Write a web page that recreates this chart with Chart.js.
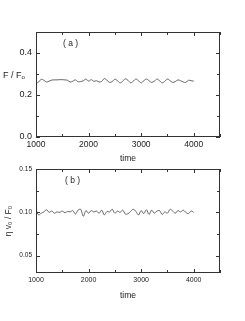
<!DOCTYPE html>
<html>
<head>
<meta charset="utf-8">
<script src="https://cdn.jsdelivr.net/npm/chart.js@4"></script>
<style>
  html, body { margin: 0; padding: 0; background: #fff; }
  body { width: 245px; height: 321px; position: relative; overflow: hidden; font-family: "Liberation Sans", Arial, sans-serif; color: #222; }
  .cv { position: absolute; left: 0; }
  .note { position: absolute; font-size: 8.5px; white-space: pre; line-height: 1; }
  sub { font-size: 6px; vertical-align: -1px; }
</style>
</head>
<body>
<div class="cv" style="top:0;width:245px;height:164px"><canvas id="chartA"></canvas></div>
<div class="cv" style="top:160px;width:245px;height:141px"><canvas id="chartB"></canvas></div>
<div class="note" style="left:63px;top:39px">( a )</div>
<div class="note" style="left:65px;top:176px">( b )</div>
<div class="note" style="left:3px;top:71px;font-size:9px">F / F<sub>o</sub></div>
<script>
// time axis (shared)
const timeA = [1000,1050,1100,1150,1200,1250,1300,1350,1400,1450,1500,1550,1600,1650,1700,1750,1800,1850,1900,1950,
  2000,2050,2100,2150,2200,2250,2300,2350,2400,2450,2500,2550,2600,2650,2700,2750,2800,2850,2900,2950,
  3000,3050,3100,3150,3200,3250,3300,3350,3400,3450,3500,3550,3600,3650,3700,3750,3800,3850,3900,3950,4000];

// (a) F / F0
const forceA = [0.256,0.262,0.275,0.270,0.262,0.266,0.271,0.272,0.272,0.273,0.273,0.272,0.270,0.262,0.266,0.272,0.263,0.264,0.268,0.276,
  0.266,0.273,0.265,0.268,0.262,0.265,0.278,0.270,0.260,0.264,0.275,0.268,0.258,0.266,0.277,0.270,0.258,0.266,0.276,0.268,
  0.258,0.268,0.276,0.268,0.260,0.266,0.276,0.268,0.258,0.265,0.276,0.268,0.260,0.264,0.272,0.268,0.262,0.260,0.270,0.268,0.266];

// (b) eta v0 / F0
const viscB = [0.1030,0.0970,0.0990,0.1005,0.1030,0.1000,0.1015,0.0990,0.1005,0.1000,0.1015,0.0995,0.1010,0.1005,0.1020,0.0980,0.1025,0.1035,0.0955,0.1020,
  0.0990,0.1020,0.1005,0.1015,0.0990,0.1025,0.0970,0.1010,0.1005,0.1035,0.0990,0.1015,0.1000,0.1025,0.0980,0.0985,0.1010,0.1035,0.1010,0.0970,
  0.1020,0.0985,0.1030,0.0975,0.1025,0.0990,0.1015,0.1020,0.0975,0.1005,0.0990,0.1035,0.1015,0.0990,0.1020,0.1005,0.1025,0.1000,0.0985,0.1015,0.1000];

// ticks and their labels
const xTicks = [1000,1500,2000,2500,3000,3500,4000,4500];
const xLabels = {1000:'1000',2000:'2000',3000:'3000',4000:'4000'};
const yTicksA = [0,0.1,0.2,0.3,0.4,0.5];
const yLabelsA = {0:'0.0',0.2:'0.2',0.4:'0.4'};
const yTicksB = [0.05,0.075,0.10,0.125,0.15];
const yLabelsB = {0.05:'0.05',0.1:'0.10',0.15:'0.15'};

const FONT = '"Liberation Sans", Arial, sans-serif';
const AXIS = '#333';

// frame + inward ticks on all four sides
const framePlugin = {
  id: 'frame',
  afterDraw(chart) {
    const {ctx, chartArea: a, scales} = chart;
    ctx.save();
    ctx.strokeStyle = AXIS;
    ctx.lineWidth = 1;
    ctx.strokeRect(a.left + 0.5, a.top + 0.5, a.right - a.left - 1, a.bottom - a.top - 1);
    ctx.beginPath();
    const xs = scales.x, ys = scales.y;
    const xl = chart.options.scales.x.labelMap, yl = chart.options.scales.y.labelMap;
    xs.ticks.forEach(t => {
      const px = Math.round(xs.getPixelForValue(t.value)) + 0.5;
      const len = xl[t.value] ? 4 : 3;
      ctx.moveTo(px, a.bottom); ctx.lineTo(px, a.bottom - len);
      ctx.moveTo(px, a.top); ctx.lineTo(px, a.top + len);
    });
    ys.ticks.forEach(t => {
      const py = Math.round(ys.getPixelForValue(t.value)) + 0.5;
      const len = yl[+t.value.toFixed(3)] ? 4 : 3;
      ctx.moveTo(a.left, py); ctx.lineTo(a.left + len, py);
      ctx.moveTo(a.right, py); ctx.lineTo(a.right - len, py);
    });
    ctx.stroke();
    ctx.restore();
  }
};

function makeChart(id, values, yMin, yMax, yTicks, yLabels, opts) {
  return new Chart(document.getElementById(id), {
    type: 'line',
    data: {
      labels: timeA,
      datasets: [{
        data: timeA.map((t, i) => ({x: t, y: values[i]})),
        borderColor: '#555',
        borderWidth: 0.9,
        pointRadius: 0,
        tension: 0.35,
        fill: false
      }]
    },
    options: {
      responsive: true,
      maintainAspectRatio: false,
      animation: false,
      layout: { padding: { top: opts.padTop, right: 25, left: 0, bottom: 0 } },
      plugins: { legend: { display: false }, tooltip: { enabled: false } },
      scales: {
        x: {
          type: 'linear',
          min: 1000, max: 4500,
          labelMap: xLabels,
          afterBuildTicks: s => { s.ticks = xTicks.map(v => ({value: v})); },
          afterFit: s => { s.height = opts.xHeight; },
          grid: { display: false, drawTicks: false },
          border: { display: false },
          ticks: {
            autoSkip: false, maxRotation: 0, padding: 3,
            color: '#222',
            font: { family: FONT, size: opts.xFont },
            callback: v => xLabels[v] || ''
          },
          title: {
            display: true, text: 'time', color: '#222',
            padding: 0,
            font: { family: FONT, size: 8.5 }
          }
        },
        y: {
          min: yMin, max: yMax,
          labelMap: yLabels,
          afterBuildTicks: s => { s.ticks = yTicks.map(v => ({value: v})); },
          afterFit: s => { s.width = 36; },
          grid: { display: false, drawTicks: false },
          border: { display: false },
          ticks: {
            autoSkip: false, padding: 4,
            color: '#222',
            font: { family: FONT, size: opts.yFont },
            callback: v => yLabels[+v.toFixed(3)] || ''
          },
          title: opts.yTitle ? {
            display: true, text: opts.yTitle, color: '#222',
            padding: { top: 4, bottom: 0 },
            font: { family: FONT, size: 8.5 }
          } : { display: false }
        }
      }
    },
    plugins: [framePlugin]
  });
}

makeChart('chartA', forceA, 0, 0.5, yTicksA, yLabelsA,
  { padTop: 32, xHeight: 27, xFont: 8.5, yFont: 9 });
makeChart('chartB', viscB, 0.03, 0.15, yTicksB, yLabelsB,
  { padTop: 9, xHeight: 28, xFont: 7, yFont: 6.5, yTitle: 'η v₀ / F₀' });
</script>
</body>
</html>
